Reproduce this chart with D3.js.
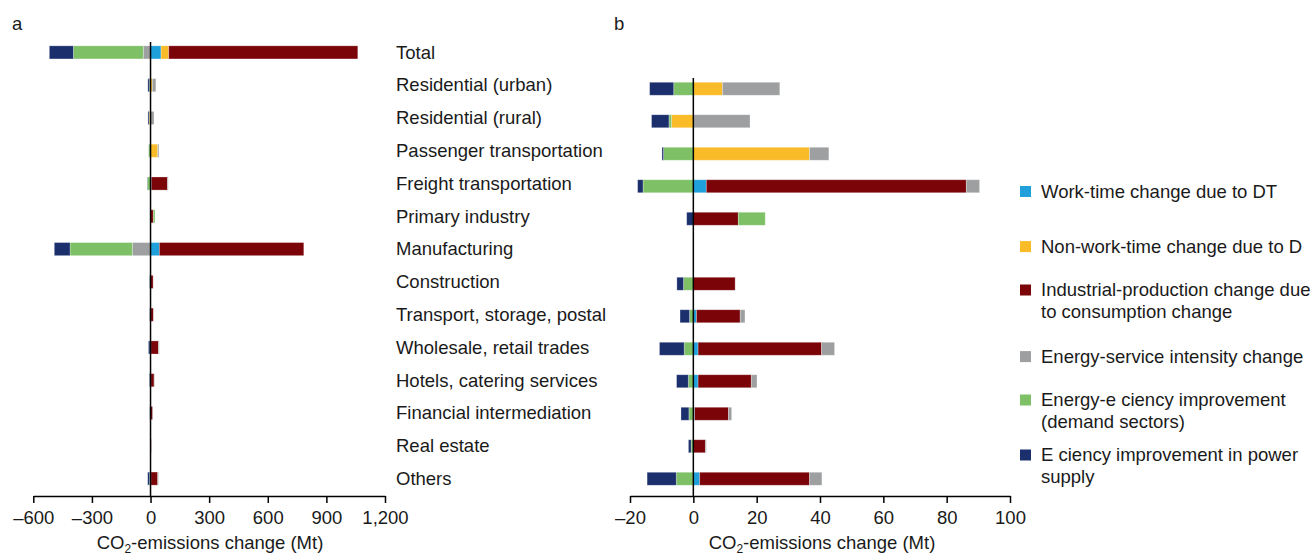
<!DOCTYPE html>
<html>
<head>
<meta charset="utf-8">
<script src="https://cdn.jsdelivr.net/npm/d3@7"></script>
<style>
  html, body { margin: 0; padding: 0; background: #fff; }
  svg { display: block; }
  text { font-family: "Liberation Sans", Arial, Helvetica, sans-serif; fill: #1a1a1a; }
</style>
</head>
<body>
<script>
// ---------- DATA ----------
const categories = [
  "Total", "Residential (urban)", "Residential (rural)", "Passenger transportation",
  "Freight transportation", "Primary industry", "Manufacturing", "Construction",
  "Transport, storage, postal", "Wholesale, retail trades", "Hotels, catering services",
  "Financial intermediation", "Real estate", "Others"
];
const panelBCategories = categories.filter(c => c !== "Total" && c !== "Manufacturing");

const seriesNames = [
  "Work-time change due to DT",
  "Non-work-time change due to D",
  "Industrial-production change due|to consumption change",
  "Energy-service intensity change",
  "Energy-e ciency improvement|(demand sectors)",
  "E ciency improvement in power|supply"
];
const seriesKeys = ["work", "nonwork", "industrial", "intensity", "efficiency", "power"];
const seriesColors = ["#1fa0db", "#f9bb27", "#7b0409", "#9d9fa0", "#7dc066", "#1b2f6d"];

const work       = [53.8, 0, 0, 0, 4.1, 0, 45.1, 0, 1.0, 1.5, 1.5, 0.4, 0, 2.0];
const nonwork    = [39.4, 9.2, -6.9, 36.7, 0, 0, 0, 0, 0, 0, 0, 0, 0, 0];
const industrial = [967.6, 0, 0, 0, 82.1, 14.2, 739.3, 13.2, 13.8, 39.0, 16.8, 10.7, 3.8, 34.7];
const intensity  = [-37, 18.1, 17.9, 6.1, 4.2, 0, -93.2, 0, 1.5, 4.1, 1.8, 1.0, 0.3, 3.9];
const efficiency = [-358, -6.2, -0.8, -9.4, -15.9, 8.5, -318.9, -3.1, -1.2, -2.9, -1.6, -1.4, -0.7, -5.4];
const power      = [-123, -7.6, -5.5, -0.5, -1.7, -2.1, -80.4, -2.1, -3.0, -7.8, -3.7, -2.5, -0.85, -9.2];

const ticksA = [-600, -300, 0, 300, 600, 900, 1200];
const tickLabelsA = ["\u2013600", "\u2013300", "0", "300", "600", "900", "1,200"];
const ticksB = [-20, 0, 20, 40, 60, 80, 100];
const tickLabelsB = ["\u201320", "0", "20", "40", "60", "80", "100"];

// ---------- BUILD ----------
const W = 1313, H = 557;
const FS = 18.5;
const svg = d3.select("body").append("svg").attr("width", W).attr("height", H);

const seriesArrays = { work, nonwork, industrial, intensity, efficiency, power };
const rows = categories.map((c, i) => {
  const r = { category: c };
  seriesKeys.forEach(k => r[k] = seriesArrays[k][i]);
  return r;
});

const stack = d3.stack().keys(seriesKeys).offset(d3.stackOffsetDiverging);

function drawPanel(opts) {
  const { data, xDomain, xRange, yRange, ticks, tickLabels, zeroTop, titleX, letter, letterX } = opts;
  const x = d3.scaleLinear().domain(xDomain).range(xRange);
  const y = d3.scaleBand().domain(categories).range(yRange).paddingInner(0.6).paddingOuter(0.3);
  const axisY = 496;
  const g = svg.append("g");

  const stacked = stack(data);
  g.selectAll("g.series").data(stacked).join("g")
    .attr("fill", (d, i) => seriesColors[i])
    .selectAll("rect").data(d => d.filter(s => Math.abs(s[1] - s[0]) > 1e-9)).join("rect")
    .attr("x", s => x(Math.min(s[0], s[1])))
    .attr("width", s => Math.abs(x(s[1]) - x(s[0])))
    .attr("y", s => y(s.data.category))
    .attr("height", y.bandwidth())
    .attr("stroke", "rgba(255,255,255,0.35)")
    .attr("stroke-width", 0.8);

  // zero line
  g.append("line")
    .attr("x1", x(0)).attr("x2", x(0))
    .attr("y1", zeroTop).attr("y2", axisY)
    .attr("stroke", "#000").attr("stroke-width", 1.5);

  // axis
  const axis = d3.axisBottom(x).tickValues(ticks).tickSize(7).tickSizeOuter(0)
    .tickFormat((d, i) => tickLabels[i]);
  const ax = g.append("g").attr("transform", `translate(0,${axisY})`).call(axis);
  ax.select(".domain").attr("stroke", "#000").attr("stroke-width", 1.5);
  ax.selectAll(".tick line").attr("stroke", "#000").attr("stroke-width", 1.5);
  ax.selectAll(".tick text")
    .attr("y", 27.5).attr("dy", 0)
    .style("font-size", FS + "px")
    .style("font-family", '"Liberation Sans", Arial, sans-serif')
    .attr("fill", "#1a1a1a");

  // title
  const t = g.append("text").attr("x", titleX).attr("y", 549)
    .attr("text-anchor", "middle").style("font-size", FS + "px");
  t.append("tspan").text("CO");
  t.append("tspan").text("2").attr("dy", 4).style("font-size", "12px");
  t.append("tspan").text("-emissions change (Mt)").attr("dy", -4);

  // panel letter
  svg.append("text").attr("x", letterX).attr("y", 30).style("font-size", FS + "px").text(letter);
  return y;
}

const yA = drawPanel({
  data: rows,
  xDomain: [-600, 1200], xRange: [33.3, 385],
  yRange: [36, 495],
  ticks: ticksA, tickLabels: tickLabelsA,
  zeroTop: 42, titleX: 210, letter: "a", letterX: 12
});

drawPanel({
  data: rows.filter(r => panelBCategories.includes(r.category)),
  xDomain: [-20, 100], xRange: [630, 1010],
  yRange: [40, 495],
  ticks: ticksB, tickLabels: tickLabelsB,
  zeroTop: 78, titleX: 822, letter: "b", letterX: 614
});

// category labels
svg.append("g").selectAll("text").data(categories).join("text")
  .attr("x", 396)
  .attr("y", d => yA(d) + yA.bandwidth() / 2 + 6.3)
  .style("font-size", FS + "px")
  .text(d => d);

// legend
const legendBaselines = [197.5, 252.6, 296, 362.6, 406, 461];
const lg = svg.append("g");
seriesNames.forEach((name, i) => {
  const b = legendBaselines[i];
  lg.append("rect").attr("x", 1020).attr("y", b - 11.5).attr("width", 11).attr("height", 11)
    .attr("fill", seriesColors[i]);
  const lines = name.split("|");
  const t = lg.append("text").attr("x", 1041).attr("y", b).style("font-size", FS + "px");
  lines.forEach((ln, j) => {
    t.append("tspan").attr("x", 1041).attr("dy", j === 0 ? 0 : 21.7).text(ln);
  });
});
</script>
</body>
</html>
